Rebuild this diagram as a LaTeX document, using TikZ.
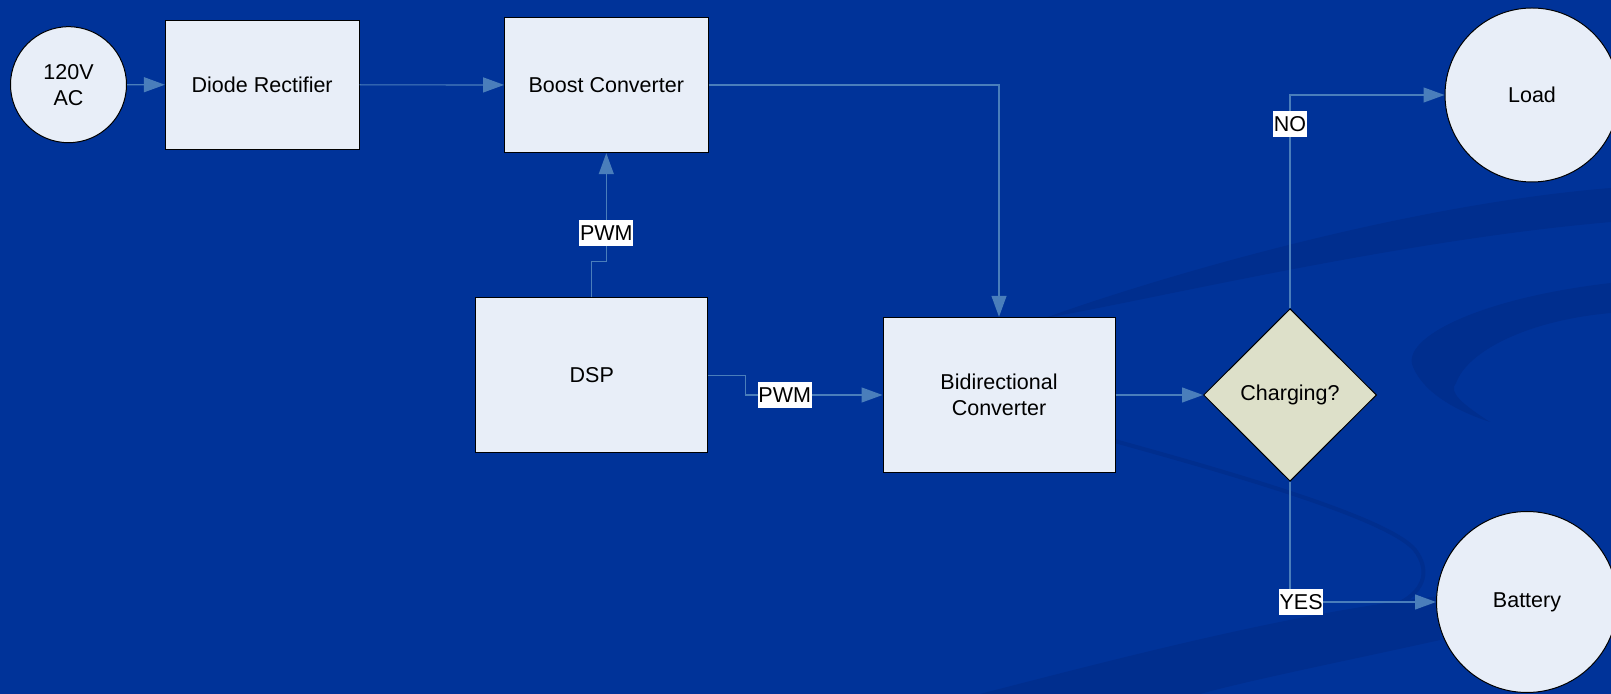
\documentclass[tikz,border=0pt]{standalone}
\usepackage{fontspec}
\setmainfont{Liberation Sans}
\usetikzlibrary{shapes.geometric,arrows.meta}
\definecolor{bgblue}{RGB}{0,51,153}
\definecolor{swoosh}{RGB}{0,46,142}
\definecolor{conn}{RGB}{74,126,187}
\definecolor{boxfill}{RGB}{232,238,248}
\definecolor{decfill}{RGB}{221,224,201}
\begin{document}
\begin{tikzpicture}[x=0.5pt,y=-0.5pt,
  font=\fontsize{10.75}{13}\selectfont,
  blk/.style={draw=black,line width=0.5pt,fill=boxfill,rectangle,align=center,inner sep=0pt},
  term/.style={draw=black,line width=0.5pt,fill=boxfill,circle,align=center,inner sep=0pt},
  decision/.style={draw=black,line width=0.5pt,fill=decfill,diamond,aspect=1,inner sep=0pt},
  flow/.style={draw=conn,line width=0.6pt,-{Triangle[length=10.5pt,width=7.5pt]}},
  lbl/.style={fill=white,text=black,inner xsep=0.3pt,inner ysep=0pt,minimum height=12.85pt}]
\fill[bgblue] (0,0) rectangle (1611,694);
\useasboundingbox (0,0) rectangle (1611,694);
\begin{scope}
\clip (0,0) rectangle (1611,694);
% upper band
\fill[swoosh] (1045,318) .. controls (1150,280) and (1400,205) .. (1611,188) -- (1611,222) .. controls (1400,240) and (1150,300) .. (1045,318) -- cycle;
% crescent on the right
\fill[swoosh] (1611,283) .. controls (1480,298) and (1400,338) .. (1413,367) .. controls (1425,395) and (1460,412) .. (1490,422)
  .. controls (1462,404) and (1448,392) .. (1456,383) .. controls (1468,350) and (1530,320) .. (1611,313) -- cycle;
% thin curling line
\draw[swoosh,line width=2pt] (1100,437) .. controls (1250,478) and (1390,520) .. (1415,550) .. controls (1430,570) and (1425,590) .. (1400,603);
% bottom band
\fill[swoosh] (980,694) .. controls (1150,650) and (1300,612) .. (1440,596) -- (1440,640) .. controls (1350,660) and (1250,680) .. (1200,694) -- cycle;
\end{scope}
\node[term,minimum size=58pt] (ac) at (68.5,84.7) {120V\\AC};
\node[blk,minimum width=96.85pt,minimum height=64.5pt] (diode) at (262.2,84.8) {Diode Rectifier};
\node[blk,minimum width=101.7pt,minimum height=67.7pt] (boost) at (606.3,85) {Boost Converter};
\node[blk,minimum width=115.85pt,minimum height=77.5pt] (dsp) at (591.8,375.5) {DSP};
\node[blk,minimum width=116pt,minimum height=77.7pt] (bidir) at (999,395) {Bidirectional\\Converter};
\node[decision,minimum width=86.5pt,minimum height=86.25pt] (chg) at (1290,395) {Charging?};
\node[term,minimum size=87pt] (load) at (1532,95) {Load};
\node[term,minimum size=90.5pt] (batt) at (1527,602) {Battery};
\draw[flow] (ac) -- (diode);
\draw[flow] (diode) -- (boost);
\draw[flow] (boost.east) -| (bidir.north);
\draw[flow] (dsp.north) -- ++(0,-36.3) -| (boost.south) node[lbl,pos=0.63] {PWM};
\draw[flow] (dsp.east) -- ++(37,0) |- (bidir.west) node[lbl,pos=0.644] {PWM};
\draw[flow] (bidir) -- (chg);
\draw[flow] (chg.north) |- (load.west) node[lbl,pos=0.432] {NO};
\draw[flow] (chg.south) |- (batt.west) node[lbl,pos=0.538] {YES};
\end{tikzpicture}
\end{document}
